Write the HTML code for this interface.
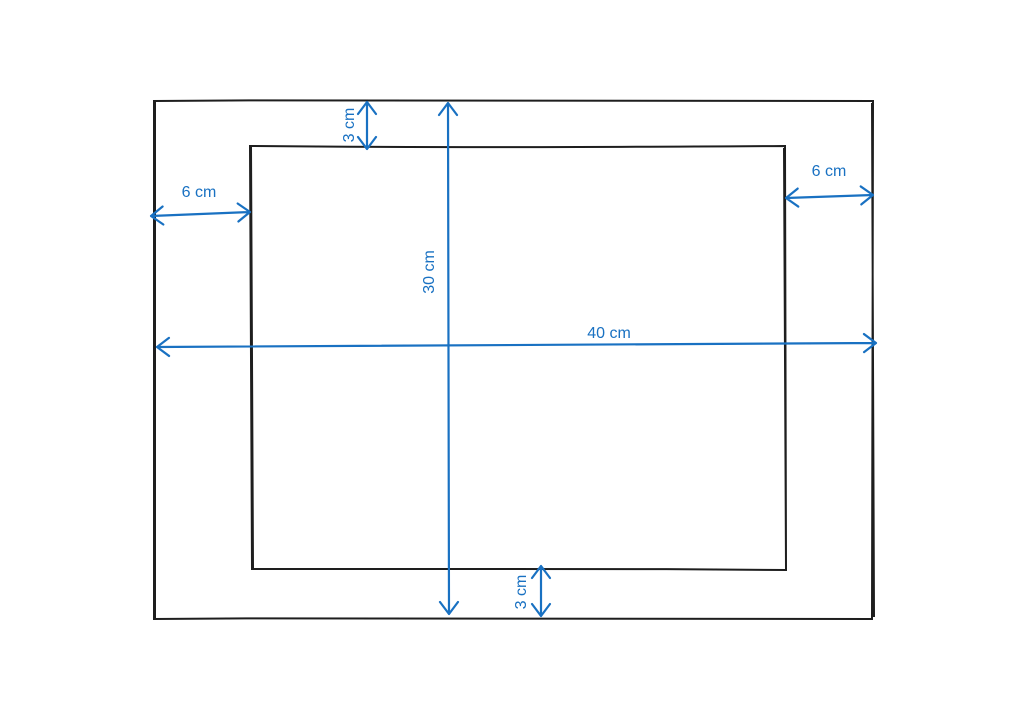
<!DOCTYPE html>
<html><head><meta charset="utf-8"><style>
html,body{margin:0;padding:0;background:#fff;}
svg{display:block;}
text{font-family:"Liberation Sans",sans-serif;font-size:16px;fill:#1971c2;}
</style></head><body>
<svg id="chart" width="1028" height="720" viewBox="0 0 1028 720">
  <path d="M154,101 C400,99 650,100 873,101 L872,619 C650,617 400,617 154,619 Z M155,102 L155,618 M872,103 L874,617" fill="none" stroke="#1e1e1e" stroke-width="2"/>
  <path d="M250,146 C450,148 620,147 785,146 L786,570 C600,568 400,569 252,569 Z M251,147 L253,568 M784,148 L786,568" fill="none" stroke="#1e1e1e" stroke-width="2"/>
  <g id="dims"></g>
</svg>
<script>
const dimLabels = ["6 cm","3 cm","30 cm","6 cm","40 cm","3 cm"];
const dimNames = ["left-margin","top-margin","height","right-margin","width","bottom-margin"];
const dimStart = [[151,216],[367,102],[448,103],[786,198],[157,347],[541,566]];
const dimEnd = [[250,212],[367,149],[449,614],[873,195],[876,343],[541,616]];
const labelPos = [[199,193],[350,125],[430,272],[829,172],[609,334],[522,592]];
const labelRot = [0,-90,-90,0,0,-90];

const g = document.getElementById('dims');
const NS = 'http://www.w3.org/2000/svg';
function head(p, q){
  const dx=q[0]-p[0], dy=q[1]-p[1], L=Math.hypot(dx,dy), ux=dx/L, uy=dy/L;
  const a=12, w=9;
  return `M${q[0]-ux*a+(-uy)*w},${q[1]-uy*a+ux*w} L${q[0]},${q[1]} L${q[0]-ux*a-(-uy)*w},${q[1]-uy*a-ux*w}`;
}
for(let i=0;i<dimLabels.length;i++){
  const s=dimStart[i], e=dimEnd[i];
  const p=document.createElementNS(NS,'path');
  p.setAttribute('d',`M${s[0]},${s[1]} L${e[0]},${e[1]} `+head(s,e)+' '+head(e,s));
  p.setAttribute('fill','none');p.setAttribute('stroke','#1971c2');p.setAttribute('stroke-width','2.2');
  p.setAttribute('stroke-linecap','round');p.setAttribute('stroke-linejoin','round');
  
  
  g.appendChild(p);
  const t=document.createElementNS(NS,'text');
  const lp=labelPos[i];
  t.setAttribute('x',lp[0]);t.setAttribute('y',lp[1]);
  t.setAttribute('text-anchor','middle');t.setAttribute('dominant-baseline','middle');
  if(labelRot[i]) t.setAttribute('transform',`rotate(${labelRot[i]} ${lp[0]} ${lp[1]})`);
  t.textContent=dimLabels[i];
  
  
  g.appendChild(t);
}
</script>
</body></html>
